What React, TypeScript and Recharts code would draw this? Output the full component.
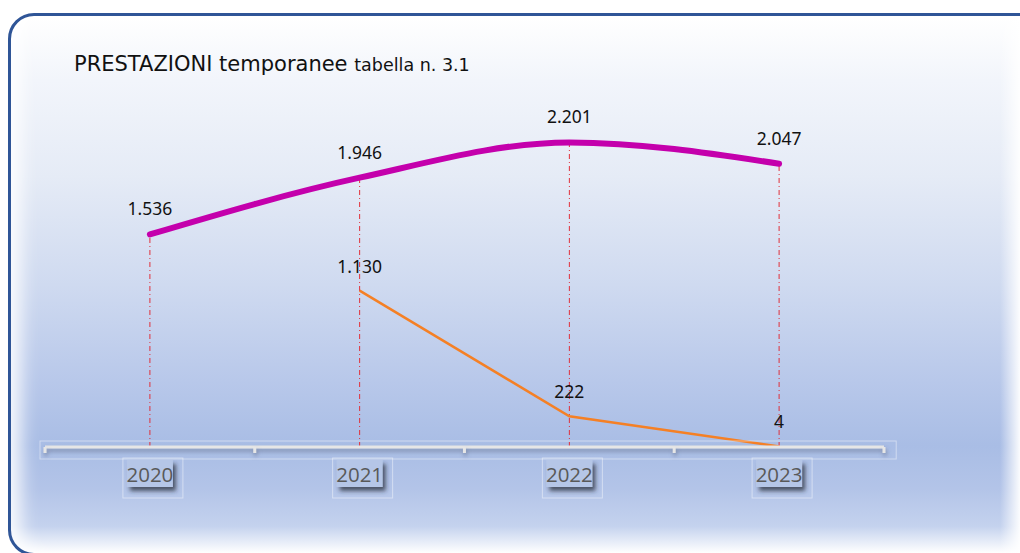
import React from 'react';
import { LineChart, Line, XAxis, YAxis, LabelList, ReferenceLine } from 'recharts';

const years = ['2020', '2021', '2022', '2023'];
const totalValues = [1536, 1946, 2201, 2047];
const secondValues: (number | null)[] = [null, 1130, 222, 4];

const data = years.map((y, i) => ({ year: y, total: totalValues[i], second: secondValues[i] }));

const fmt = (v: any) => (v == null ? '' : String(v).replace(/\B(?=(\d{3})+(?!\d))/g, '.'));

const HALF = 104.9;

const Tick = (props: any) => {
  const { x, y, payload, index, visibleTicksCount } = props;
  const last = index === visibleTicksCount - 1;
  return (
    <g>
      {index === 0 && (
        <rect x={x - HALF - 5} y={y - 6} width={HALF * 8 + 17} height={18} fill="none" stroke="rgba(255,255,255,0.45)" strokeWidth={1} />
      )}
      <line x1={x - HALF} y1={y} x2={x - HALF} y2={y + 6} stroke="#E6E6E6" strokeWidth={3} filter="url(#axShadow)" />
      {last && <line x1={x + HALF} y1={y} x2={x + HALF} y2={y + 6} stroke="#E6E6E6" strokeWidth={3} filter="url(#axShadow)" />}
      <rect x={x - 27} y={y + 11} width={60} height={40} fill="none" stroke="rgba(255,255,255,0.45)" strokeWidth={1} />
      <rect x={x - 23} y={y + 13} width={46} height={27} fill="#B5C6E7" filter="url(#boxShadow)" />
      <text x={x} y={y + 35} textAnchor="middle" fontFamily="'Open Sans', sans-serif" fontSize={20.5} fill="#595959">
        {payload.value}
      </text>
    </g>
  );
};

export default function App() {
  return (
    <div style={{ position: 'absolute', left: 0, top: 0, width: 1020, height: 553, overflow: 'hidden', background: '#ffffff' }}>
      <svg width={0} height={0} style={{ position: 'absolute' }}>
        <defs>
          <filter id="boxShadow" x="-30%" y="-30%" width="170%" height="180%">
            <feDropShadow dx={3} dy={4} stdDeviation={2} floodColor="#2a2f3a" floodOpacity={0.75} />
          </filter>
          <filter id="axShadow" filterUnits="userSpaceOnUse" x={0} y={0} width={1020} height={553}>
            <feDropShadow dx={1} dy={3} stdDeviation={2} floodColor="#5a6680" floodOpacity={0.6} />
          </filter>
        </defs>
      </svg>
      <div
        style={{
          position: 'absolute',
          left: 8,
          top: 13,
          width: 1040,
          height: 537,
          border: '3px solid #2F5597',
          borderRadius: 26,
          background:
            'linear-gradient(to bottom, #FFFFFF 0%, #F2F5FB 12%, #E5EBF6 30%, #CFDAF0 50%, #B8C8EA 68%, #A9BDE5 80%, #B3C4E8 88%, #C4D2EE 95%, #FFFFFF 100%)',
          boxShadow: 'inset 18px 0 18px -8px rgba(255,255,255,0.9)',
        }}
      />
      <div style={{ position: 'absolute', left: 1000, top: 16, width: 20, height: 540, background: 'linear-gradient(to right, rgba(255,255,255,0), rgba(255,255,255,0.95))' }} />
      <div
        style={{
          position: 'absolute',
          left: 74,
          top: 52,
          fontFamily: "'DejaVu Sans', Verdana, sans-serif",
          fontSize: 21,
          lineHeight: '25px',
          color: '#111',
          whiteSpace: 'nowrap',
        }}
      >
        PRESTAZIONI temporanee <span style={{ fontSize: 17.5 }}>tabella n. 3.1</span>
      </div>
      <div style={{ position: 'absolute', left: 0, top: 0 }}>
        <LineChart width={1020} height={553} data={data} margin={{ top: 101, right: 136, bottom: 46, left: 45 }}>
          <YAxis hide domain={[0, 2500]} />
          <XAxis
            dataKey="year"
            height={60}
            padding={{ left: HALF, right: HALF }}
            tickLine={false}
            tickSize={0}
            tickMargin={0}
            interval={0}
            axisLine={{ stroke: '#E6E6E6', strokeWidth: 3, filter: 'url(#axShadow)' }}
            tick={<Tick />}
          />
          {years.map((y, i) => (
            <ReferenceLine
              key={y}
              segment={[{ x: y, y: 0 }, { x: y, y: totalValues[i] }]}
              stroke="#E0303A"
              strokeWidth={1}
              strokeDasharray="5 3 1 3"
            />
          ))}
          <Line
            dataKey="second"
            stroke="#F58025"
            strokeWidth={2.5}
            dot={false}
            connectNulls={false}
            isAnimationActive={false}
          >
            <LabelList dataKey="second" position="top" offset={18} formatter={fmt} fill="#111" fontSize={17.5} fontFamily="'Noto Sans', sans-serif" />
          </Line>
          <Line
            dataKey="total"
            type="monotone"
            stroke="#C400AC"
            strokeWidth={6}
            strokeLinecap="round"
            dot={false}
            isAnimationActive={false}
          >
            <LabelList dataKey="total" position="top" offset={19} formatter={fmt} fill="#111" fontSize={17.5} fontFamily="'Noto Sans', sans-serif" />
          </Line>
        </LineChart>
      </div>
    </div>
  );
}
